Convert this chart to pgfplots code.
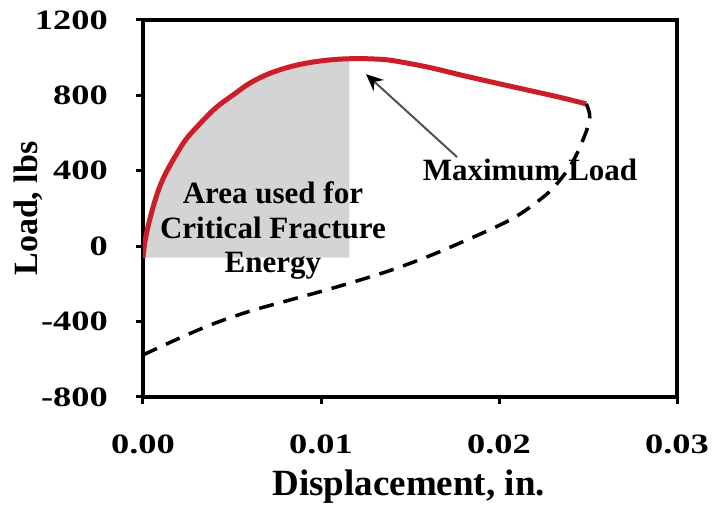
\documentclass[border=0pt]{standalone}
\usepackage{fontspec}
\setmainfont{Liberation Serif}
\usepackage{graphicx}
\usepackage{pgfplots}
\pgfplotsset{compat=1.18}
\usetikzlibrary{arrows.meta}
\definecolor{curvered}{RGB}{204,30,40}
\definecolor{areagray}{RGB}{212,212,212}
\definecolor{arrowgray}{RGB}{80,80,80}
% widened tick numbers
\newcommand\tn[1]{\scalebox{1.3}[1]{#1}}

\begin{document}
\begin{tikzpicture}
\useasboundingbox (0,0) rectangle (712pt,505pt);
\begin{axis}[
  at={(143pt,108pt)}, anchor=south west,
  scale only axis, width=534pt, height=377pt,
  xmin=0, xmax=0.03, ymin=-800, ymax=1200,
  xtick={0,0.01,0.02,0.03},
  xticklabels={\tn{0.00},\tn{0.01},\tn{0.02},\tn{0.03}},
  ytick={-800,-400,0,400,800,1200},
  yticklabels={\tn{-800},\tn{-400},\tn{0},\tn{400},\tn{800},\tn{1200}},
  tick align=outside, xtick pos=left, ytick pos=left,
  major tick length=7pt,
  every tick/.style={black, line width=3pt},
  axis line style={line width=3.3pt},
  xticklabel style={font=\bfseries\fontsize{28}{30}\selectfont,
    anchor=base, inner sep=0pt, yshift=-50pt},
  yticklabel style={font=\bfseries\fontsize{28}{30}\selectfont,
    anchor=east, inner sep=0pt, xshift=-28pt},
  xlabel={Displacement, in.},
  xlabel style={font=\bfseries\fontsize{37}{40}\selectfont,
    at={(axis description cs:0.4975,-0.262)}, anchor=base, inner sep=0pt},
  ylabel={Load, lbs},
  ylabel style={font=\bfseries\fontsize{34}{38}\selectfont,
    at={(axis description cs:-0.2154,0.5)}, anchor=center},
]
% area under the loading branch up to the peak
\addplot[fill=areagray, draw=none] coordinates {
  (0,-60) (0.0001,20) (0.0002,70) (0.0004,150) (0.0007,250) (0.001,330)
  (0.00135,400) (0.0018,475) (0.0024,565) (0.0032,650) (0.0041,735)
  (0.0051,805) (0.006,865) (0.007,912) (0.008,945) (0.009,968)
  (0.010,983) (0.011,992) (0.0116,994) (0.0116,-60)
};
\node[font=\bfseries\fontsize{31}{34}\selectfont, anchor=base]
  at (axis cs:0.0073,229) {Area used for};
\node[font=\bfseries\fontsize{31}{34}\selectfont, anchor=base]
  at (axis cs:0.0073,43) {Critical Fracture};
\node[font=\bfseries\fontsize{31}{34}\selectfont, anchor=base]
  at (axis cs:0.0073,-137) {Energy};
\node[font=\bfseries\fontsize{31}{34}\selectfont, anchor=base]
  at (axis cs:0.02174,351) {Maximum Load};
% loading curve
\addplot[curvered, line width=5pt, smooth, tension=0.6] coordinates {
  (0,-60) (0.0001,20) (0.0002,70) (0.0004,150) (0.0007,250) (0.001,330)
  (0.00135,400) (0.0018,475) (0.0024,565) (0.0032,650) (0.0041,735)
  (0.0051,805) (0.006,865) (0.007,912) (0.008,945) (0.009,968)
  (0.010,983) (0.011,992) (0.012,995) (0.013,993) (0.014,985)
  (0.016,950) (0.018,905) (0.020,862) (0.022,820) (0.0235,788)
  (0.0249,755)
};
% unloading path
\addplot[black, line width=3.5pt, dash pattern=on 15pt off 10pt, smooth, tension=0.6] coordinates {
  (0.0249,755) (0.0251,680) (0.0247,560) (0.024,425) (0.023,305)
  (0.022,225) (0.021,160) (0.020,110) (0.018,25) (0.016,-55)
  (0.014,-125) (0.012,-185) (0.010,-240) (0.008,-292) (0.006,-345)
  (0.004,-410) (0.002,-490) (0,-577)
};
\draw[arrowgray, line width=2pt, -{Stealth[length=17pt, width=15pt, color=black]}]
  (axis cs:0.01764,473) -- (axis cs:0.01253,913);
\end{axis}
\end{tikzpicture}
\end{document}
